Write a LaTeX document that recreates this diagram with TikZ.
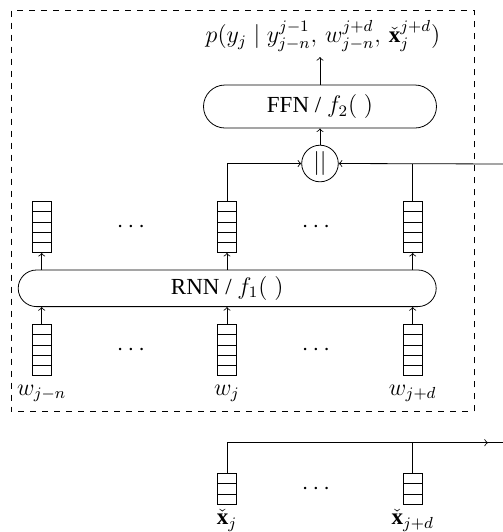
\documentclass[tikz,border=0pt]{standalone}
\usepackage{amsmath}
\usepackage{fontspec}
\setmainfont{Liberation Serif}
\usetikzlibrary{shapes.misc}

\tikzset{
  vecbox/.style={draw, inner sep=0pt, minimum width=9.6pt, minimum height=#1*5.1pt,
    path picture={\foreach \k in {1,...,#1}
      \draw ([yshift=\k*5.1pt]path picture bounding box.south west) -- ++(12pt,0);}},
  layer/.style={draw, rounded rectangle, inner sep=0pt},
}

\begin{document}
\begin{tikzpicture}[x=0.5pt,y=-0.5pt,font=\fontsize{11.5}{13}\selectfont]
 \useasboundingbox (0,0) rectangle (503,532);
 \draw[dashed] (11.3,10.7) rectangle (474,411.7);

 % output and layers
 \node (out) at (323,36) {$p(y_j \mid y_{j-n}^{j-1},\, w_{j-n}^{j+d},\, \check{\mathbf{x}}_j^{j+d})$};
 \node[layer, minimum width=116.5pt, minimum height=21.5pt] (ffn) at (320,106.5) {FFN / $f_2(\;)$};
 \node[draw, circle, inner sep=0pt, minimum size=18.3pt] (cat) at (320,163.5) {$||$};
 \node[layer, minimum width=209pt, minimum height=18.3pt] (rnn) at (227.2,288.3) {RNN / $f_1(\;)$};

 % hidden states
 \node[vecbox=5] (h1) at (41.7,227) {};
 \node[vecbox=5] (h2) at (227,227) {};
 \node[vecbox=5] (h3) at (412.7,227) {};
 \node (hd1) at (133,227) {$\cdots$};
 \node (hd2) at (318,227) {$\cdots$};

 % word embeddings
 \node[vecbox=5] (w1) at (41.7,350) {};
 \node[vecbox=5] (w2) at (227,350) {};
 \node[vecbox=5] (w3) at (412.7,350) {};
 \node (wd1) at (133,350) {$\cdots$};
 \node (wd2) at (318,350) {$\cdots$};
 \node[below=1pt] (lw1) at (w1.south) {$w_{j-n}$};
 \node[below=1pt] (lw2) at (w2.south) {$w_j$};
 \node[below=1pt] (lw3) at (w3.south) {$w_{j+d}$};

 % features
 \node[vecbox=3] (x1) at (227,488.8) {};
 \node[vecbox=3] (x2) at (412.7,488.8) {};
 \node (xd) at (318,489) {$\cdots$};
 \node[below=-1pt] (lx1) at (x1.south) {$\check{\mathbf{x}}_j$};
 \node[below=-1pt] (lx2) at (x2.south) {$\check{\mathbf{x}}_{j+d}$};

 \coordinate (catin) at (510,164);
 \coordinate (xfar) at (510,442.7);
 \coordinate (xend) at (488,442.7);

 \draw[->] (ffn.north) -- (320,57);
 \draw[->] (cat.north) -- (ffn.south);
 \draw[->] (h2.north) |- (cat.west);
 \draw (h3.north) -- (h3.north |- catin);
 \draw[->] (catin) -- (cat.east);
 \foreach \i in {1,2,3} {
   \draw[->] (rnn.north -| h\i) -- (h\i.south);
   \draw[->] (w\i.north) -- (w\i.north |- rnn.south);
 }
 \draw (x1.north) |- (xfar);
 \draw[->] (x2.north) |- (xend);
\end{tikzpicture}
\end{document}
